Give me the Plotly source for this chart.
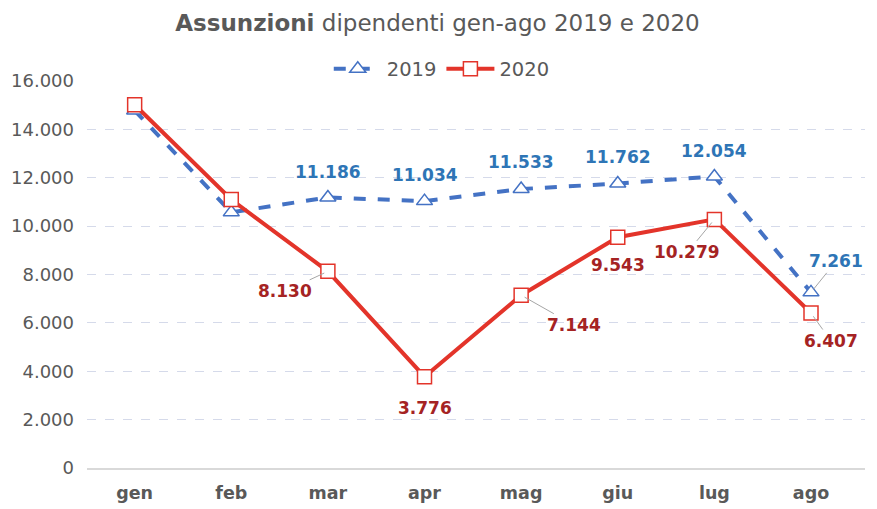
import plotly.graph_objects as go

# Dati
mesi = ["gen", "feb", "mar", "apr", "mag", "giu", "lug", "ago"]
assunzioni_2019 = [14780, 10570, 11186, 11034, 11533, 11762, 12054, 7261]
assunzioni_2020 = [15020, 11100, 8130, 3776, 7144, 9543, 10279, 6407]
tick_vals = [0, 2000, 4000, 6000, 8000, 10000, 12000, 14000, 16000]

BLU = "#4472C4"
BLU_TXT = "#2E75B6"
ROSSO = "#E3342A"
ROSSO_TXT = "#A52323"
GRIGIO = "#595959"
FONT = "DejaVu Sans"

# la pagina ha un margine di 8px: la figura è più piccola di conseguenza
W, H = 869, 501


def fmt(v):
    return f"{v:,}".replace(",", ".")


fig = go.Figure()

fig.add_trace(go.Scatter(
    x=mesi, y=assunzioni_2019, name="2019", mode="lines+markers",
    line=dict(color=BLU, width=4, dash="dash"),
    marker=dict(symbol="triangle-up", size=14, color="white",
                line=dict(color=BLU, width=1.5)),
))
fig.add_trace(go.Scatter(
    x=mesi, y=assunzioni_2020, name="2020", mode="lines+markers",
    line=dict(color=ROSSO, width=4),
    marker=dict(symbol="square", size=14, color="white",
                line=dict(color=ROSSO, width=1.5)),
))

# etichette dati: (indice, offset x, offset y, linea guida)
etichette_2019 = [(2, 0, -25, False), (3, 0, -26, False), (4, 0, -27, False),
                  (5, 0, -27, False), (6, 0, -25, False), (7, 25, -31, True)]
etichette_2020 = [(2, -43, 20, True), (3, 0, 31, False), (4, 53, 30, True),
                  (5, 0, 28, False), (6, -27, 33, True), (7, 20, 28, True)]

for serie, etich, col in [(assunzioni_2019, etichette_2019, BLU_TXT),
                          (assunzioni_2020, etichette_2020, ROSSO_TXT)]:
    for i, dx, dy, guida in etich:
        fig.add_annotation(
            x=mesi[i], y=serie[i], text=f"<b>{fmt(serie[i])}</b>",
            showarrow=True, ax=dx, ay=dy, axref="pixel", ayref="pixel",
            arrowhead=0, arrowwidth=1,
            arrowcolor="#A6A6A6" if guida else "rgba(0,0,0,0)",
            standoff=4,
            font=dict(family=FONT, size=17, color=col),
        )

fig.update_layout(
    width=W, height=H,
    paper_bgcolor="white", plot_bgcolor="white",
    margin=dict(l=79, r=12, t=73, b=41, autoexpand=False),
    separators=",.",
    font=dict(family=FONT, color=GRIGIO),
    title=dict(text="<b>Assunzioni</b> dipendenti gen-ago 2019 e 2020",
               x=0.5 - 5 / W, xanchor="center", y=1 - 15 / H, yanchor="middle",
               font=dict(family=FONT, size=23, color=GRIGIO)),
    legend=dict(orientation="h", x=0.456, xanchor="center",
                yref="container", y=1 - 61 / H, yanchor="middle",
                itemwidth=48,
                font=dict(family=FONT, size=19.5, color=GRIGIO),
                bgcolor="rgba(0,0,0,0)"),
    showlegend=True,
)

fig.update_yaxes(range=[0, 16000], tickvals=tick_vals, tickformat=",d",
                 showgrid=True, gridcolor="#D5DAEA", griddash="dash",
                 gridwidth=1.2, zeroline=False, showline=False,
                 ticks="", ticklabelstandoff=12,
                 tickfont=dict(family=FONT, size=18, color=GRIGIO))
fig.update_xaxes(showgrid=False, showline=True, linecolor="#D9D9D9",
                 linewidth=1.5, ticks="", ticklabelstandoff=8,
                 tickfont=dict(family=FONT, size=17.5, color=GRIGIO),
                 tickprefix="<b>", ticksuffix="</b>")

fig.write_html("out.html")
